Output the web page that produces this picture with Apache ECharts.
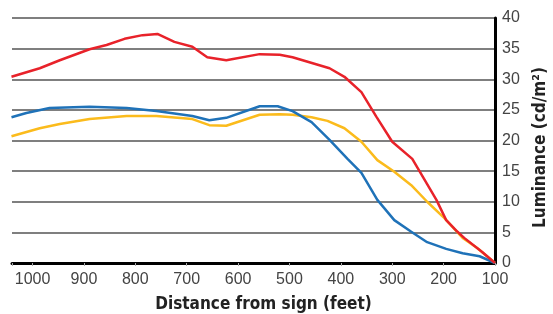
<!DOCTYPE html>
<html lang="en">
<head>
    <meta charset="UTF-8">
    <title>Luminance vs distance</title>
    <script src="https://cdn.jsdelivr.net/npm/echarts@6/dist/echarts.min.js"></script>
    <style>
        html, body { margin: 0; padding: 0; background: #fff; }
        #chart { width: 553px; height: 314px; }
    </style>
</head>
<body>
<div id="chart"></div>
<script>
    // distance (feet), luminance (cd/m2)
    var redLine = [[1041,30.4],[986,31.8],[947,33.1],[889,34.9],[856,35.6],[821,36.6],[786,37.2],[757,37.4],
        [724,36.1],[689,35.3],[660,33.6],[623,33.1],[558,34.1],[519,34.0],[494,33.6],[422,31.8],[393,30.4],
        [360,27.9],[331,23.9],[300,19.8],[261,17.0],[214,10.3],[195,7.0],[173,5.1],[160,4.1],[125,1.8],[100,0]];
    var blueLine = [[1041,23.8],[1012,24.5],[967,25.3],[889,25.5],[817,25.3],[759,24.8],[689,24.0],[656,23.3],
        [623,23.7],[558,25.6],[523,25.6],[494,24.8],[457,23.0],[422,20.1],[387,17.0],[360,14.7],[329,10.3],
        [296,7.0],[263,5.1],[232,3.4],[195,2.3],[163,1.6],[130,1.1],[100,0]];
    var yellowLine = [[1041,20.7],[986,22.0],[947,22.7],[889,23.5],[817,24.0],[759,24.0],[689,23.5],[656,22.5],
        [623,22.4],[558,24.2],[519,24.3],[494,24.2],[457,23.8],[426,23.2],[393,22.0],[360,19.8],[329,16.8],
        [296,14.9],[263,12.7],[232,10.0],[198,7.3],[163,4.1],[134,2.4],[100,0]];

    var xName = 'Distance from sign (feet)';
    var yName = 'Luminance (cd/m²)';

    var chart = echarts.init(document.getElementById('chart'));

    function line(data, color) {
        return {
            type: 'line', data: data, symbol: 'none', smooth: false,
            lineStyle: { color: color, width: 2.5 }
        };
    }

    chart.setOption({
        animation: false,
        grid: { left: 12, right: 58, top: 18, bottom: 51, outerBoundsMode: 'none' },
        xAxis: {
            type: 'value', inverse: true, min: 100, max: 1040, interval: 100,
            name: xName, nameLocation: 'middle', nameGap: 33,
            nameTextStyle: {
                fontFamily: 'DejaVu Sans Condensed', fontWeight: 'bold', fontSize: 17, color: '#222',
                padding: [0, 0, 0, 20]
            },
            axisLine: { show: true, lineStyle: { color: '#000', width: 3 } },
            axisTick: { show: true, length: 3, lineStyle: { color: '#aaa' } },
            axisLabel: {
                color: '#444', fontSize: 16, margin: 9, fontFamily: 'Liberation Sans',
                formatter: function (v) { return v > 1000 ? '' : v; }
            },
            splitLine: { show: false }
        },
        yAxis: {
            type: 'value', position: 'right', min: 0, max: 40, interval: 5,
            name: yName, nameLocation: 'middle', nameGap: 37, nameRotate: 90,
            nameTextStyle: {
                fontFamily: 'DejaVu Sans Condensed', fontWeight: 'bold', fontSize: 17, color: '#222',
                padding: [0, 14, 0, 0]
            },
            axisLine: { show: true, lineStyle: { color: '#000', width: 3 } },
            axisTick: { show: false },
            axisLabel: { color: '#444', fontSize: 16, margin: 7, fontFamily: 'Liberation Sans' },
            splitLine: { lineStyle: { color: '#555', width: 1.5 } }
        },
        series: [
            line(yellowLine, '#fbbb1c'),
            line(blueLine, '#1f72b8'),
            line(redLine, '#e8222a')
        ]
    });
</script>
</body>
</html>
